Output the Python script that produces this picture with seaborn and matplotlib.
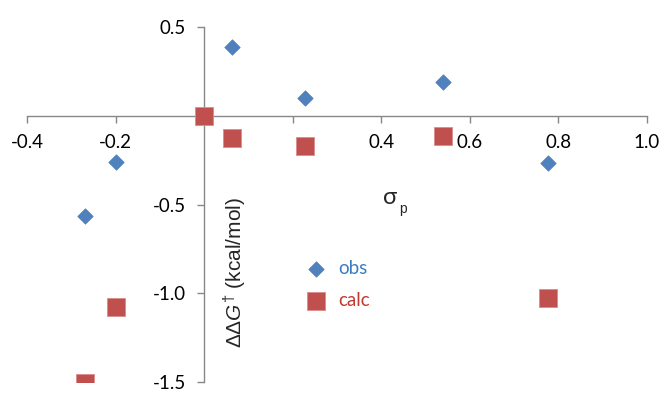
import seaborn as sns
import pandas as pd
import matplotlib.pyplot as plt

# Hammett sigma_p values and activation free energy differences
sigma_p = [-0.27, -0.20, 0.00, 0.063, 0.228, 0.54, 0.778]
ddg_obs = [-0.563, -0.259, 0.00, 0.384, 0.10, 0.191, -0.268]
ddg_calc = [-1.506, -1.077, 0.00, -0.128, -0.169, -0.115, -1.026]

x_ticks = [-0.4, -0.2, 0.0, 0.2, 0.4, 0.6, 0.8, 1.0]
x_tick_labels = ['-0.4', '-0.2', '', '', '0.4', '0.6', '0.8', '1.0']
y_ticks = [0.5, 0.0, -0.5, -1.0, -1.5]
y_tick_labels = ['0.5', '', '-0.5', '-1.0', '-1.5']

sns.set_style('white')
plt.rcParams['font.family'] = ['Lato', 'DejaVu Sans']
plt.rcParams['mathtext.fontset'] = 'custom'
plt.rcParams['mathtext.rm'] = 'Liberation Sans'
plt.rcParams['mathtext.it'] = 'Liberation Sans:italic'

df_obs = pd.DataFrame({'sigma': sigma_p, 'ddg': ddg_obs})
df_calc = pd.DataFrame({'sigma': sigma_p, 'ddg': ddg_calc})

fig = plt.figure(figsize=(6.64, 3.94), dpi=100)
ax = fig.add_axes([0.0411, 0.0297, 0.9328, 0.9025])

axis_grey = '#878787'
sns.scatterplot(data=df_obs, x='sigma', y='ddg', marker='D', s=62, color='#4F81BD',
                edgecolor='#4F81BD', linewidth=0.5, label='obs', ax=ax, zorder=3)
sns.scatterplot(data=df_calc, x='sigma', y='ddg', marker='s', s=150, color='#C0504D',
                edgecolor='#D98C8A', linewidth=0.6, label='calc', ax=ax, zorder=4)

ax.set_xlim(-0.4, 1.0)
ax.set_ylim(-1.5, 0.5)

# axes crossing at the origin
ax.spines['left'].set_position(('data', 0))
ax.spines['bottom'].set_position(('data', 0))
ax.spines['top'].set_visible(False)
ax.spines['right'].set_visible(False)
for side in ['left', 'bottom']:
    ax.spines[side].set_color(axis_grey)
    ax.spines[side].set_linewidth(1.0)

ax.set_xticks(x_ticks)
ax.set_xticklabels(x_tick_labels)
ax.set_yticks(y_ticks)
ax.set_yticklabels(y_tick_labels)
ax.tick_params(axis='both', direction='out', length=5, width=1.0, color=axis_grey,
               labelsize=13.5, labelcolor='black', bottom=True, left=True)
ax.tick_params(axis='x', pad=8)
ax.tick_params(axis='y', pad=8)

ax.set_xlabel('')
ax.set_ylabel('')
fig.text(390 / 664, 1 - 197 / 394, r'$\mathregular{\sigma}$', fontsize=17, ha='center', va='center')
fig.text(403 / 664, 1 - 209 / 394, 'p', fontsize=10, ha='center', va='center',
         family='Liberation Sans')
fig.text(235 / 664, 1 - 272 / 394, r'ΔΔ$\mathit{G}^{\dagger}$ (kcal/mol)', rotation=90,
         fontsize=15, ha='center', va='center', family='Liberation Sans')

leg = ax.legend(loc='center left', bbox_to_anchor=(297 / 664, 1 - 284 / 394),
                bbox_transform=fig.transFigure, frameon=False, fontsize=13.5,
                handlelength=1.0, handletextpad=0.7, labelspacing=0.8, borderpad=0)
for txt, c in zip(leg.get_texts(), ['#3A7CC4', '#C2392F']):
    txt.set_color(c)

plt.savefig('out.png', dpi=100)
